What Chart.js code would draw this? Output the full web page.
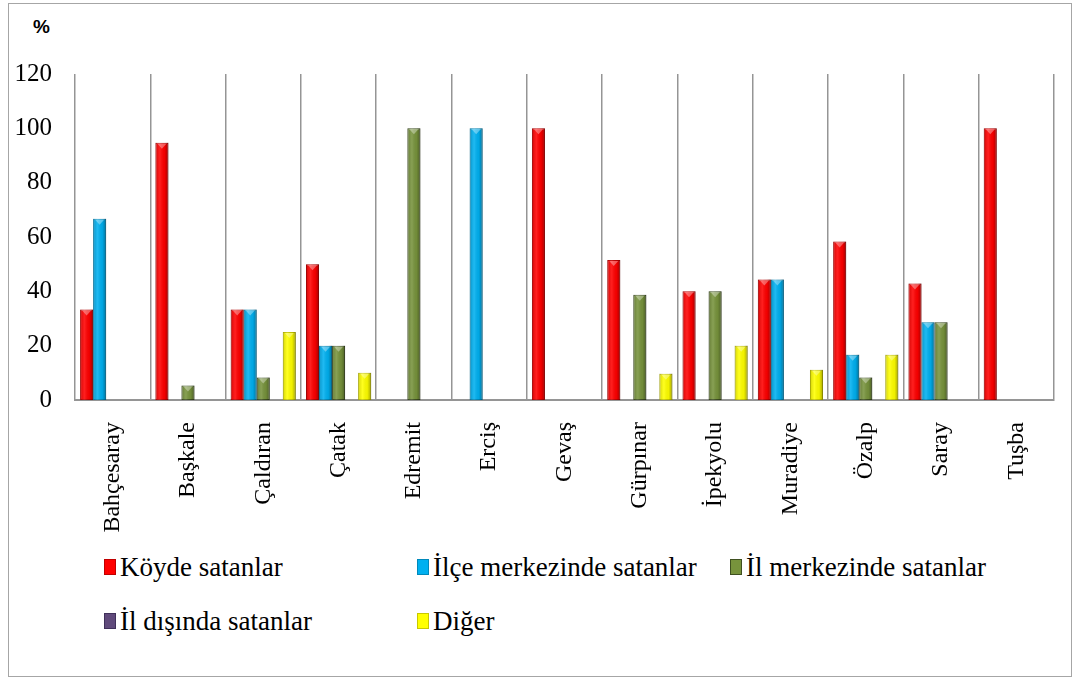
<!DOCTYPE html>
<html>
<head>
<meta charset="utf-8">
<script src="https://cdn.jsdelivr.net/npm/chart.js@4"></script>
<style>
  body { margin: 0; background: #fff; }
  #frame { position: absolute; left: 8px; top: 3px; width: 1062px; height: 672px; border: 1px solid #a6a6a6; }
  #wrap { position: absolute; left: 0; top: 0; width: 1062px; height: 545px; }
  #pct { position: absolute; left: 24px; top: 12px; font: bold 19px "Liberation Sans", Arial, sans-serif; }
  #legend { position: absolute; left: 95px; top: 550px; display: grid; grid-template-columns: 313px 313px 330px; row-gap: 28px;
            font-family: "Liberation Serif", "DejaVu Serif", serif; font-size: 27px; }
  .item { display: flex; align-items: center; height: 26px; white-space: nowrap; }
  .box { width: 10px; height: 14px; margin-right: 4px; }
</style>
</head>
<body>
<div id="frame">
  <div id="pct">%</div>
  <div id="wrap"><canvas id="barChart"></canvas></div>
  <div id="legend"></div>
</div>
<script>
// Data
const districts = ["Bahçesaray", "Başkale", "Çaldıran", "Çatak", "Edremit", "Erciş", "Gevaş", "Gürpınar", "İpekyolu", "Muradiye", "Özalp", "Saray", "Tuşba"];
const koyde    = [33.3, 94.7, 33.3, 50, 0, 0, 100, 51.5, 40, 44.4, 58.3, 42.9, 100];
const ilce     = [66.7, 0, 33.3, 20, 0, 100, 0, 0, 0, 44.4, 16.7, 28.6, 0];
const ilMerkez = [0, 5.3, 8.3, 20, 100, 0, 0, 38.7, 40, 0, 8.3, 28.6, 0];
const ilDisi   = [0, 0, 0, 0, 0, 0, 0, 0, 0, 0, 0, 0, 0];
const diger    = [0, 0, 25, 10, 0, 0, 0, 9.7, 20, 11.1, 16.7, 0, 0];
const yTicks = [0, 20, 40, 60, 80, 100, 120];

const serif = "'Liberation Serif', 'DejaVu Serif', serif";

function ds(label, data, color, edge) {
    return { label: label, data: data, backgroundColor: color, borderColor: edge, borderWidth: 1, borderSkipped: false,
             categoryPercentage: 0.865, barPercentage: 1.0 };
}

// bevel look: shade the bars the library drew
const bevel = {
    id: "bevel",
    afterDatasetsDraw(chart) {
        const ctx = chart.ctx;
        chart.data.datasets.forEach(function (d, i) {
            chart.getDatasetMeta(i).data.forEach(function (bar) {
                const p = bar.getProps(["x", "y", "base", "width"], true);
                const h = p.base - p.y;
                if (h < 1) return;
                const l = p.x - p.width / 2, r = p.x + p.width / 2;
                const g = ctx.createLinearGradient(l, 0, r, 0);
                g.addColorStop(0, "rgba(0,0,0,0.18)");
                g.addColorStop(0.35, "rgba(255,255,255,0.12)");
                g.addColorStop(0.7, "rgba(0,0,0,0.05)");
                g.addColorStop(1, "rgba(0,0,0,0.35)");
                ctx.save();
                ctx.fillStyle = g;
                ctx.fillRect(l, p.y, p.width, h);
                ctx.fillStyle = "rgba(255,255,255,0.35)";
                ctx.beginPath();
                ctx.moveTo(l + 2, p.y + 1);
                ctx.lineTo(r - 2, p.y + 1);
                ctx.lineTo(p.x, p.y + Math.min(6, h));
                ctx.closePath();
                ctx.fill();
                ctx.restore();
            });
        });
    }
};

const chart = new Chart(document.getElementById("barChart"), {
    type: "bar",
    data: {
        labels: districts,
        datasets: [
            ds("Köyde satanlar", koyde, "#ff0000", "#c00000"),
            ds("İlçe merkezinde satanlar", ilce, "#00b0f0", "#0089bb"),
            ds("İl merkezinde satanlar", ilMerkez, "#77933c", "#3f5020"),
            ds("İl dışında satanlar", ilDisi, "#604a7b", "#40305a"),
            ds("Diğer", diger, "#ffff00", "#c8c800")
        ]
    },
    options: {
        responsive: true,
        maintainAspectRatio: false,
        animation: false,
        layout: { padding: { top: 70, right: 17, left: 0, bottom: 0 } },
        plugins: { legend: { display: false }, tooltip: { enabled: false } },
        scales: {
            x: {
                grid: { display: true, offset: true, drawTicks: false, color: "#959595", lineWidth: 1.5 },
                border: { display: true, color: "#959595", width: 2 },
                ticks: { minRotation: 90, maxRotation: 90, padding: 22, color: "#000", font: { family: serif, size: 24 } },
                afterFit: function (axis) { axis.height = 149; }
            },
            y: {
                min: 0, max: 120,
                afterBuildTicks: function (axis) { axis.ticks = yTicks.map(v => ({ value: v })); },
                grid: { display: false, drawTicks: false },
                border: { display: false },
                ticks: { padding: 23, color: "#000", font: { family: serif, size: 25 } },
                afterFit: function (axis) { axis.width = 66; }
            }
        }
    },
    plugins: [bevel]
});

// HTML legend built from the datasets
const legend = document.getElementById("legend");
chart.data.datasets.forEach(function (d) {
    const item = document.createElement("div");
    item.className = "item";
    item.innerHTML = '<span class="box" style="background:' + d.backgroundColor + ';border:1px solid ' + d.borderColor + '"></span>' + d.label;
    legend.appendChild(item);
});
</script>
</body>
</html>
